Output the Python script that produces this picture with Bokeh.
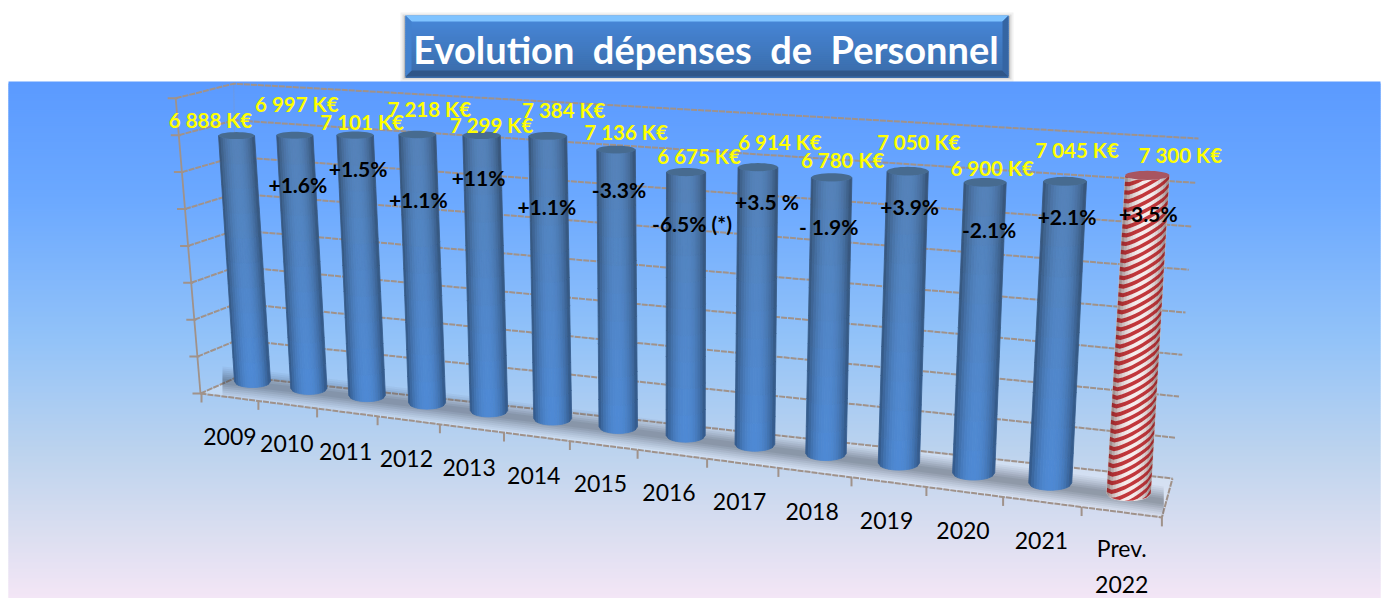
import math
from bokeh.plotting import figure
from bokeh.models import Range1d
from bokeh.core.properties import value
from bokeh.embed import file_html
from bokeh.resources import INLINE

# ---------- data ----------
categories = ["2009", "2010", "2011", "2012", "2013", "2014", "2015", "2016",
              "2017", "2018", "2019", "2020", "2021", "Prev.\n2022"]
expenses = [6888, 6997, 7101, 7218, 7299, 7384, 7136, 6675, 6914, 6780, 7050, 6900, 7045, 7300]
value_labels = ["6 888 K€", "6 997 K€", "7 101 K€", "7 218 K€", "7 299 K€", "7 384 K€", "7 136 K€",
                "6 675 K€", "6 914 K€", "6 780 K€", "7 050 K€", "6 900 K€", "7 045 K€", "7 300 K€"]
change_labels = ["+1.6%", "+1.5%", "+1.1%", "+11%", "+1.1%", "-3.3%", "-6.5% (*)",
                 "+3.5 %", "- 1.9%", "+3.9%", "-2.1%", "+2.1%", "+3.5%"]
axis_ticks = [0, 1000, 2000, 3000, 4000, 5000, 6000, 7000, 8000]
title_text = "Evolution\u00a0 dépenses\u00a0 de\u00a0 Personnel"

# ---------- layout of the perspective view (screen pixels) ----------
W, H = 1388, 598
value_label_offsets = [(-26, -16), (2, -31), (7, -13), (12, -26), (10, -10), (16, -26), (10, -18),
                       (13, -16), (22, -25), (11, -17), (11, -29), (7, -14), (12, -31), (33, -20)]
change_label_offsets = [(3, 49), (3, 33), (1, 65), (-3, 42), (-1, 71), (3, 40), (6, 51),
                        (9, 34), (-3, 49), (2, 35), (4, 47), (2, 35), (1, 38)]


def mix(c1, c2, t):
    return tuple(a + (b - a) * t for a, b in zip(c1, c2))


def rgb(c, f=1.0):
    return "#%02x%02x%02x" % tuple(max(0, min(255, round(v * f))) for v in c)


def base_point(i):
    return 252 + 55.44 * i + 0.92 * i * i, 381 + 6.66 * i + 0.15 * i * i


def px_per_unit(i):
    return 0.0357 + 0.000457 * i + 0.0000114 * i * i


def lean(i):
    return -0.065 + 0.0095 * i


def cyl_width(i):
    return 36 + 0.25 * i + 0.028 * i * i


def floor_tick_x(j):
    return 201 + 56 * j + 0.9 * j * j


def floor_line_y(x):
    return 393 + (x - 201) * 0.129


def wall_front(v):
    k = v / 1000
    return 200 - 3.1 * k, 393 - 36.9 * k


def wall_back_left(v):
    k = v / 1000
    return 238 - 0.6 * k, 376 - 36.6 * k


def wall_back_right(v):
    k = v / 1000
    return 1172 + 3.25 * k, 478 - 40.5 * k - 0.25 * k * k


p = figure(width=W, height=H, x_range=Range1d(0, W), y_range=Range1d(H, 0),
           output_backend="svg", toolbar_location=None, min_border=0,
           background_fill_color="white", border_fill_color="white", outline_line_color=None)
p.axis.visible = False
p.grid.visible = False

# ---------- background gradient ----------
stops = [(81, (0x5b, 0x9a, 0xff)), (200, (0x6c, 0xa9, 0xff)), (340, (0x93, 0xc3, 0xf8)),
         (450, (0xbc, 0xd3, 0xee)), (530, (0xda, 0xde, 0xf0)), (598, (0xf4, 0xe6, 0xf6))]
tops, bots, cols = [], [], []
for y in range(81, 598, 2):
    for (y0, c0), (y1, c1) in zip(stops, stops[1:]):
        if y0 <= y <= y1:
            cols.append(rgb(mix(c0, c1, (y - y0) / (y1 - y0))))
            break
    tops.append(y)
    bots.append(min(y + 4, 598))
p.quad(left=8, right=1380, top=tops, bottom=bots, fill_color=cols, line_color=None)

# ---------- title box ----------
bx0, bx1, by0, by1, bev = 405, 1008, 15, 76, 6
for s, a in [(5, 0.07), (3, 0.12), (1.5, 0.2)]:
    p.quad(left=bx0 - s, right=bx1 + s, top=by0 - s + 2, bottom=by1 + s, fill_color="#404040",
           fill_alpha=a, line_color=None)
c_top, c_bot = (0x47, 0x88, 0xda), (0x3a, 0x6b, 0xa8)
nb = 30
for n in range(nb):
    yy = by0 + (by1 - by0) * n / nb
    p.quad(left=bx0, right=bx1, top=yy, bottom=yy + (by1 - by0) / nb + 1.5,
           fill_color=rgb(mix(c_top, c_bot, n / nb)), line_color=None)
p.patch([bx0, bx1, bx1 - bev, bx0 + bev], [by0, by0, by0 + bev, by0 + bev], fill_color="#7fc3ff", line_color=None)
p.patch([bx0, bx1, bx1 - bev, bx0 + bev], [by1, by1, by1 - bev, by1 - bev], fill_color="#2f5688", line_color=None)
p.patch([bx0, bx0 + bev, bx0 + bev, bx0], [by0, by0 + bev, by1 - bev, by1], fill_color="#4382cf", line_color=None)
p.patch([bx1, bx1 - bev, bx1 - bev, bx1], [by0, by0 + bev, by1 - bev, by1], fill_color="#3565a3", line_color=None)
p.text(x=[(bx0 + bx1) / 2 - 1], y=[(by0 + by1) / 2 + 3], text=[title_text], text_color="white",
       text_font=value("Lato"), text_font_style="bold", text_font_size="38px",
       text_align="center", text_baseline="middle")

# ---------- floor ----------
A, D = wall_front(0), wall_back_left(0)
C = wall_back_right(0)
B = (floor_tick_x(14), floor_line_y(floor_tick_x(14)))
p.patch([A[0], B[0], C[0], D[0]], [A[1], B[1], C[1], D[1]], fill_color="#e4ecf7", fill_alpha=0.45, line_color=None)

# ---------- walls and gridlines ----------
GRID = "#a0928a"
for v in axis_ticks:
    f, l, r = wall_front(v), wall_back_left(v), wall_back_right(v)
    p.line([f[0], l[0], r[0]], [f[1], l[1], r[1]], line_color=GRID, line_width=2, line_dash="6 1")
    p.line([f[0] - 8, f[0] + 2], [f[1], f[1]], line_color=GRID, line_width=2)
f0, f1 = wall_front(0), wall_front(8000)
p.line([f0[0], f1[0]], [f0[1], f1[1]], line_color=GRID, line_width=1.8)
l0, l1 = wall_back_left(0), wall_back_left(8000)
p.line([l0[0], l1[0]], [l0[1], l1[1]], line_color=GRID, line_width=1.0, line_alpha=0.25)

# floor front edge, right edge and ticks
p.line([A[0], B[0], C[0]], [A[1], B[1], C[1]], line_color=GRID, line_width=2, line_dash="6 1")
for j in range(15):
    tx = floor_tick_x(j)
    ty = floor_line_y(tx)
    p.line([tx, tx], [ty, ty + 9], line_color=GRID, line_width=2)

# ---------- shadow band on the floor ----------
xs = [base_point(i)[0] for i in range(len(expenses))]
ys = [base_point(i)[1] for i in range(len(expenses))]
xs = [xs[0] - 30] + xs + [xs[-1] + 35]
ys = [ys[0] - 3] + ys + [ys[-1] + 5]
for half, a in [(15, 0.05), (13, 0.06), (11, 0.07), (9, 0.08), (7, 0.09), (5, 0.1), (3, 0.1)]:
    p.patch(xs + xs[::-1], [y - half + 3 for y in ys] + [y + half + 3 for y in ys[::-1]],
            fill_color="#3a4250", fill_alpha=a, line_color=None)

# ---------- cylinders ----------
NU, NV = 16, 10
top_blue, bot_blue = (0x55, 0x82, 0xb8), (0x4e, 0x8a, 0xd6)


def ry_at(i, h, v):
    return (6 + 0.1 * i) + ((3.5 + 0.08 * i) - (6 + 0.1 * i)) * v / h


def surf(i, h, u, v):
    """point on the cylinder front: u in -1..1 across, v pixels above the base"""
    bx, by = base_point(i)
    return bx + lean(i) * v + u * cyl_width(i) / 2, by + ry_at(i, h, v) * math.sqrt(max(0, 1 - u * u)) - v


def shade(u):
    return 0.62 + 0.38 * (1 - abs(u) ** 2.2)


def cap(i, h):
    bx, by = base_point(i)
    cx, cy = bx + lean(i) * h, by - h
    rx, ry = cyl_width(i) / 2, 3.5 + 0.08 * i
    ang = [2 * math.pi * a / 36 for a in range(36)]
    return [cx + rx * math.cos(a) for a in ang], [cy + ry * math.sin(a) for a in ang]


for i, val in enumerate(expenses):
    h = val * px_per_unit(i)
    is_forecast = i == len(expenses) - 1
    px, py, pc = [], [], []
    for a in range(NU):
        u0 = -1 + 2 * a / NU
        u1 = -1 + 2 * (a + 1) / NU
        um = (u0 + u1) / 2
        for b in range(NV):
            v0, v1 = h * b / NV, h * (b + 1) / NV
            p0, p1, p2, p3 = surf(i, h, u0, v0), surf(i, h, u1, v0), surf(i, h, u1, v1), surf(i, h, u0, v1)
            px.append([p0[0], p1[0], p2[0], p3[0]])
            py.append([p0[1], p1[1], p2[1], p3[1]])
            if is_forecast:
                pc.append(rgb((0xf6, 0xec, 0xec), 0.78 + 0.22 * (1 - abs(um) ** 3)))
            else:
                pc.append(rgb(mix(bot_blue, top_blue, (b + 0.5) / NV), shade(um)))
    p.patches(px, py, fill_color=pc, line_color=pc, line_width=0.8)
    if is_forecast:
        rise, period, band = 24, 8.5, 4.2
        sx, sy = [], []
        us = [-1 + 2 * q / 10 for q in range(11)]
        v0 = -rise
        while v0 < h:
            low = [min(h, max(0, v0 + rise * (u + 1) / 2)) for u in us]
            high = [min(h, max(0, v0 + band + rise * (u + 1) / 2)) for u in us]
            pts = [surf(i, h, u, v) for u, v in zip(us, low)] + \
                  [surf(i, h, u, v) for u, v in zip(us[::-1], high[::-1])]
            sx.append([q[0] for q in pts])
            sy.append([q[1] for q in pts])
            v0 += period
        p.patches(sx, sy, fill_color="#c2383c", line_color=None)
        # edge darkening
        ex, ey, ea = [], [], []
        for a in range(NU):
            u0 = -1 + 2 * a / NU
            u1 = -1 + 2 * (a + 1) / NU
            um = (u0 + u1) / 2
            q0, q1, q2, q3 = surf(i, h, u0, 0), surf(i, h, u1, 0), surf(i, h, u1, h), surf(i, h, u0, h)
            ex.append([q0[0], q1[0], q2[0], q3[0]])
            ey.append([q0[1], q1[1], q2[1], q3[1]])
            ea.append(0.30 * abs(um) ** 2.5)
        p.patches(ex, ey, fill_color="#300808", fill_alpha=ea, line_color=None)
        cx, cy = cap(i, h)
        p.patch(cx, cy, fill_color="#a85560", line_color=None)
    else:
        cx, cy = cap(i, h)
        p.patch(cx, cy, fill_color="#476b90", line_color=None)

# ---------- texts ----------
lx, ly = [], []
for i, val in enumerate(expenses):
    h = val * px_per_unit(i)
    bx, by = base_point(i)
    dx, dy = value_label_offsets[i]
    lx.append(bx + lean(i) * h + dx)
    ly.append(by - h + dy)
p.text(x=lx, y=ly, text=value_labels, text_color="#ffff00", text_font=value("Lato"), text_font_style="bold",
       text_font_size="20.5px", text_align="center", text_baseline="middle")

cx_, cy_ = [], []
for i, dv in enumerate(change_label_offsets, start=1):
    h = expenses[i] * px_per_unit(i)
    bx, by = base_point(i)
    dx, dy = dv
    cx_.append(bx + lean(i) * h + dx)
    cy_.append(by - h + dy)
p.text(x=cx_, y=cy_, text=change_labels, text_color="black", text_font=value("Lato"), text_font_style="bold",
       text_font_size="21px", text_align="center", text_baseline="middle")

yx, yy = [], []
for j in range(len(categories)):
    mid = (floor_tick_x(j) + floor_tick_x(j + 1)) / 2 - 0.08 * j * (13 - j)
    yx.append(mid)
    yy.append(floor_line_y(mid) + (39 if "\n" not in categories[j] else 54))
p.text(x=yx, y=yy, text=categories, text_color="black", text_font=value("Lato"),
       text_font_size="23px", text_align="center", text_baseline="middle", text_line_height=1.3)

open("out.html", "w").write(file_html(p, INLINE))
